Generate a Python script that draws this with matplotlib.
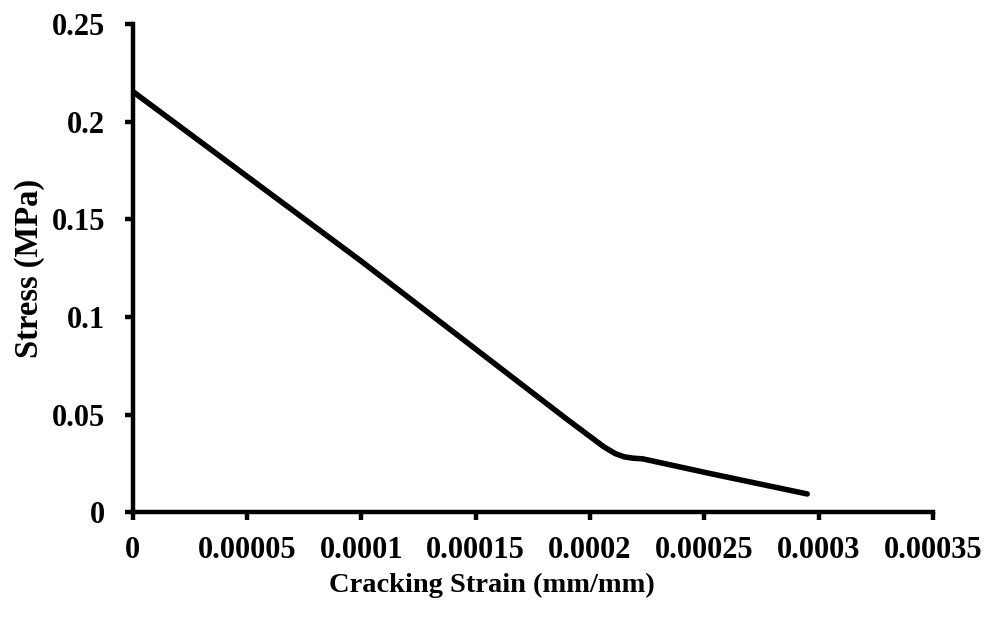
import matplotlib.pyplot as plt
from matplotlib.ticker import FixedLocator, FixedFormatter

strain = [0, 0.000100, 0.000190, 0.000206, 0.000211, 0.000215, 0.000219, 0.000223, 0.000252, 0.000295]
stress = [0.2155, 0.1285, 0.0475, 0.0335, 0.0300, 0.0283, 0.0276, 0.0273, 0.0199, 0.0093]

xticks = [0, 0.00005, 0.0001, 0.00015, 0.0002, 0.00025, 0.0003, 0.00035]
xlabels = ['0', '0.00005', '0.0001', '0.00015', '0.0002', '0.00025', '0.0003', '0.00035']
yticks = [0, 0.05, 0.1, 0.15, 0.2, 0.25]
ylabels = ['0', '0.05', '0.1', '0.15', '0.2', '0.25']

plt.rcParams['font.family'] = ['Liberation Serif', 'DejaVu Serif']
plt.rcParams['font.weight'] = 'bold'

fig = plt.figure(figsize=(9.9, 6.17), dpi=100)
ax = fig.add_axes([0.134, 0.170, 0.8084, 0.791])

ax.plot(strain, stress, color='black', linewidth=4, solid_joinstyle='round', solid_capstyle='round')

ax.set_xlim(0, 0.00035)
ax.set_ylim(0, 0.25)
ax.xaxis.set_major_locator(FixedLocator(xticks))
ax.xaxis.set_major_formatter(FixedFormatter(xlabels))
ax.yaxis.set_major_locator(FixedLocator(yticks))
ax.yaxis.set_major_formatter(FixedFormatter(ylabels))

for s in ['top', 'right']:
    ax.spines[s].set_visible(False)
for s in ['left', 'bottom']:
    ax.spines[s].set_linewidth(3.2)
ax.tick_params(direction='out', length=6, width=3.2, labelsize=22)
ax.tick_params(axis='x', pad=11)
ax.tick_params(axis='y', pad=14)
for lab in ax.get_xticklabels() + ax.get_yticklabels():
    lab.set_fontweight('bold')

# the x title sits a bit left of the plot centre in the original
ax.set_xlabel('Cracking Strain (mm/mm)', fontsize=20.5, fontweight='bold', labelpad=6, x=0.449)
ax.set_ylabel('Stress (MPa)', fontsize=23.5, fontweight='bold')
ax.yaxis.set_label_coords(-0.109, 0.5)

fig.savefig('out.png', dpi=100)
